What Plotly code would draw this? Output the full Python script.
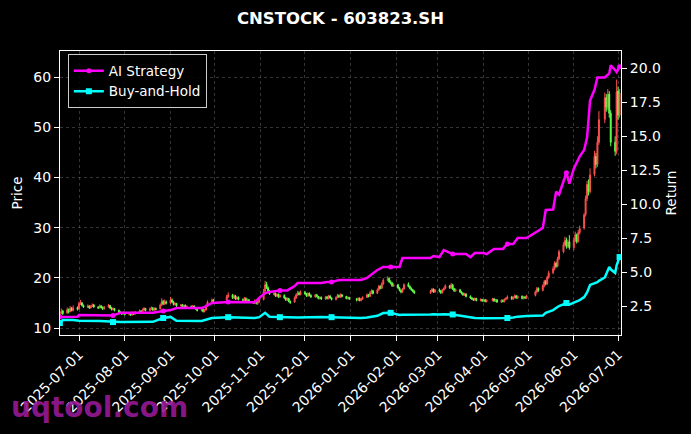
import pandas as pd
import plotly.graph_objects as go

# ---- trading days (weekdays minus SSE holidays) ----
holidays = ["2025-10-01", "2025-10-02", "2025-10-03", "2025-10-06", "2025-10-07", "2025-10-08",
            "2026-01-01", "2026-01-02",
            "2026-02-16", "2026-02-17", "2026-02-18", "2026-02-19", "2026-02-20", "2026-02-23",
            "2026-04-06", "2026-05-01", "2026-05-04", "2026-05-05", "2026-06-19"]
days = pd.bdate_range("2025-06-18", "2026-07-02")
days = days[~days.isin(pd.to_datetime(holidays))]

# ---- daily candles ----
open_px = [
    12.4, 12.9, 13.4, 13.0, 13.7, 13.3, 13.9, 13.5, 14.1,  # jun
    13.8, 14.9, 15.0, 14.5, 14.1, 14.4, 14.0, 14.3, 14.6, 14.2, 14.0, 14.4, 14.1, 13.8, 14.2, 14.5,
    14.0, 13.7, 13.9, 13.5, 13.2, 13.0, 12.8,  # jul
    13.0, 12.7, 12.9, 12.6, 13.0, 12.8, 13.1, 13.4, 13.2, 13.6, 13.9, 13.5, 13.8, 14.0, 13.6, 13.9,
    13.8, 14.6, 15.3, 14.8, 15.2,  # aug
    15.0, 15.6, 15.2, 14.7, 14.9, 14.4, 14.6, 14.2, 14.5, 14.1, 14.3, 14.0, 14.4, 14.1, 13.8, 13.5,
    13.7, 13.3, 13.6, 14.4, 15.2, 15.6,  # sep
    15.6, 16.2, 16.6, 16.0, 16.4, 15.8, 16.1, 15.7, 15.5, 15.9, 15.3, 15.6, 15.2, 15.0, 15.4, 14.9, 15.2,  # oct
    15.7, 17.3, 18.7, 18.0, 17.4, 16.7, 16.9, 16.4, 16.7, 16.2, 16.5, 16.0, 15.6, 15.9, 15.3, 15.2,
    16.0, 16.6, 17.0, 16.7,  # nov
    17.1, 16.8, 16.4, 16.9, 16.5, 16.2, 16.6, 16.3, 15.9, 16.1, 15.8, 16.2, 15.9, 16.4, 16.0, 15.7,
    16.1, 16.5, 16.2, 16.6, 16.3, 15.9, 16.1,  # dec
    15.8, 15.6, 15.9, 15.5, 15.8, 16.1, 16.6, 16.3, 17.0, 17.4, 16.9, 17.6, 18.3, 17.9, 18.8, 19.5,
    19.9, 19.2, 18.9, 18.4,  # jan
    18.6, 18.0, 17.5, 17.2, 17.8, 18.7, 18.3, 17.9, 17.6, 17.3, 17.0, 17.3, 17.7, 17.2,  # feb
    17.6, 17.4, 17.0, 17.6, 17.9, 18.4, 18.0, 18.6, 17.8, 17.4, 17.6, 17.2, 16.9, 16.6, 16.8, 16.3,
    16.0, 15.8, 15.6, 15.9, 15.5, 15.7,  # mar
    15.4, 15.6, 15.3, 15.5, 15.8, 15.4, 15.6, 15.2, 15.5, 15.3, 15.7, 15.9, 16.2, 15.8, 16.1, 16.4,
    16.0, 16.3, 15.9, 16.2, 16.0,  # apr
    16.5, 17.2, 17.9, 17.5, 18.4, 19.3, 18.8, 20.1, 21.0, 21.8, 22.9, 22.3, 23.8, 25.2, 26.6, 27.5,
    26.3, 27.2,  # may
    26.0, 27.5, 28.6, 27.3, 29.0, 29.9, 32.6, 35.8, 38.6, 37.2, 40.6, 44.2, 42.6, 47.0, 51.6, 55.9,
    54.0, 56.6, 52.8, 47.0, 45.2,  # jun
    57.2, 52.4,  # jul
]
high_px = [
    13.2, 13.9, 13.6, 14.1, 13.9, 14.4, 14.2, 14.5, 14.3,
    15.3, 15.6, 15.2, 14.7, 14.7, 14.5, 14.6, 14.9, 14.8, 14.4, 14.7, 14.6, 14.3, 14.4, 14.8, 14.6,
    14.2, 14.1, 14.0, 13.7, 13.4, 13.2, 13.3,
    13.2, 13.1, 13.0, 13.3, 13.2, 13.4, 13.7, 13.6, 13.9, 14.2, 14.0, 14.1, 14.3, 14.2, 14.1, 14.1,
    14.9, 15.9, 15.6, 15.7, 15.5,
    16.2, 15.9, 15.4, 15.1, 15.0, 14.8, 14.8, 14.7, 14.7, 14.5, 14.5, 14.6, 14.5, 14.2, 13.9, 13.9,
    13.9, 13.8, 14.7, 15.5, 15.9, 15.8,
    16.6, 17.1, 16.8, 16.7, 16.6, 16.3, 16.3, 15.9, 16.2, 16.1, 15.9, 15.8, 15.4, 15.7, 15.6, 15.5, 15.9,
    17.8, 19.4, 19.2, 18.3, 17.6, 17.2, 17.1, 16.9, 16.9, 16.8, 16.7, 16.2, 16.1, 16.0, 15.5, 16.3,
    16.9, 17.4, 17.3, 17.5,
    17.4, 17.0, 17.1, 17.1, 16.7, 16.8, 16.8, 16.4, 16.3, 16.3, 16.4, 16.4, 16.6, 16.5, 16.1, 16.3,
    16.8, 16.7, 16.9, 16.8, 16.4, 16.3, 16.2,
    16.0, 16.1, 16.1, 16.0, 16.3, 16.9, 16.8, 17.3, 17.7, 17.6, 17.9, 18.6, 18.5, 19.1, 19.9, 20.3,
    20.1, 19.5, 19.2, 18.9,
    18.8, 18.2, 17.7, 18.0, 18.9, 19.1, 18.5, 18.1, 17.8, 17.5, 17.6, 18.0, 17.9, 17.8,
    17.9, 17.6, 17.8, 18.1, 18.7, 18.6, 19.0, 18.8, 18.0, 17.9, 17.8, 17.4, 17.1, 17.0, 16.9, 16.5,
    16.2, 16.0, 16.1, 16.0, 15.9, 15.8,
    15.8, 15.8, 15.7, 16.0, 16.0, 15.8, 15.8, 15.7, 15.7, 15.9, 16.1, 16.5, 16.4, 16.3, 16.7, 16.6,
    16.5, 16.5, 16.4, 16.4, 16.6,
    17.5, 18.2, 18.1, 18.7, 19.6, 19.6, 20.4, 21.4, 22.3, 23.3, 23.2, 24.2, 25.6, 27.1, 28.2, 28.0,
    27.6, 28.5,
    27.9, 29.2, 28.8, 29.5, 30.4, 32.9, 36.4, 39.3, 39.6, 41.8, 45.3, 44.9, 48.2, 53.2, 56.9, 56.6,
    57.6, 57.2, 53.4, 48.2, 59.5,
    58.1, 57.6,
]
low_px = [
    12.1, 12.7, 12.6, 12.8, 12.9, 13.1, 13.3, 13.3, 13.5,
    13.7, 14.6, 14.3, 14.0, 14.0, 13.8, 13.9, 14.2, 14.0, 13.8, 13.9, 13.9, 13.6, 13.7, 14.1, 13.8,
    13.5, 13.5, 13.3, 13.0, 12.8, 12.6, 12.7,
    12.5, 12.5, 12.4, 12.5, 12.6, 12.6, 12.9, 13.0, 13.1, 13.4, 13.3, 13.3, 13.6, 13.4, 13.4, 13.5,
    13.7, 14.4, 14.6, 14.6, 14.7,
    14.8, 15.0, 14.5, 14.5, 14.2, 14.3, 14.0, 14.0, 13.9, 14.0, 13.8, 13.8, 13.9, 13.6, 13.3, 13.3,
    13.1, 13.1, 13.5, 14.2, 15.0, 15.1,
    15.4, 16.0, 15.8, 15.8, 15.6, 15.6, 15.5, 15.3, 15.3, 15.1, 15.1, 15.0, 14.8, 14.8, 14.7, 14.6, 15.0,
    15.5, 17.0, 17.8, 17.2, 16.6, 16.5, 16.2, 16.2, 16.0, 16.0, 15.8, 15.4, 15.4, 15.1, 14.8, 15.0,
    15.8, 16.4, 16.5, 16.5,
    16.6, 16.2, 16.2, 16.3, 16.0, 16.0, 16.1, 15.7, 15.7, 15.6, 15.6, 15.7, 15.7, 15.8, 15.5, 15.5,
    15.9, 16.0, 16.0, 16.1, 15.7, 15.7, 15.6,
    15.3, 15.4, 15.3, 15.3, 15.6, 16.0, 16.1, 16.2, 16.8, 16.7, 16.8, 17.4, 17.7, 17.8, 18.6, 19.3,
    19.0, 18.7, 18.2, 18.2,
    17.8, 17.3, 16.9, 17.0, 17.6, 18.1, 17.7, 17.4, 17.1, 16.8, 16.8, 17.1, 17.0, 17.0,
    17.1, 16.8, 16.9, 17.4, 17.7, 17.8, 17.8, 17.6, 17.2, 17.2, 17.0, 16.7, 16.4, 16.4, 16.1, 15.8,
    15.6, 15.4, 15.4, 15.3, 15.3, 15.2,
    15.2, 15.1, 15.1, 15.3, 15.2, 15.2, 15.0, 15.0, 15.1, 15.1, 15.5, 15.7, 15.6, 15.6, 15.9, 15.8,
    15.8, 15.7, 15.7, 15.8, 15.8,
    16.3, 16.9, 17.2, 17.3, 18.1, 18.5, 18.6, 19.8, 20.7, 21.5, 22.0, 22.1, 23.5, 24.9, 26.2, 25.8,
    25.9, 25.6,
    25.5, 27.1, 26.8, 27.0, 28.6, 29.6, 32.2, 35.3, 36.4, 36.8, 40.2, 41.8, 42.1, 46.5, 50.8, 53.1,
    53.4, 51.9, 46.2, 44.3, 44.6,
    51.5, 51.9,
]
close_px = [
    12.8, 13.3, 12.9, 13.6, 13.2, 13.9, 13.5, 14.0, 13.7,
    14.9, 15.1, 14.5, 14.2, 14.4, 14.0, 14.3, 14.6, 14.2, 14.0, 14.4, 14.1, 13.8, 14.2, 14.5, 14.0,
    13.7, 13.9, 13.5, 13.2, 13.0, 12.8, 13.0,
    12.7, 12.9, 12.6, 13.0, 12.8, 13.1, 13.4, 13.2, 13.6, 13.9, 13.5, 13.8, 14.0, 13.6, 13.9, 13.7,
    14.6, 15.3, 14.8, 15.2, 15.0,
    15.6, 15.2, 14.7, 14.9, 14.4, 14.6, 14.2, 14.5, 14.1, 14.3, 14.0, 14.4, 14.1, 13.8, 13.5, 13.7,
    13.3, 13.6, 14.4, 15.2, 15.6, 15.4,
    16.2, 16.6, 16.0, 16.4, 15.8, 16.1, 15.7, 15.5, 15.9, 15.3, 15.6, 15.2, 15.0, 15.4, 14.9, 15.2, 15.6,
    17.2, 18.6, 18.0, 17.4, 16.8, 16.9, 16.4, 16.7, 16.2, 16.5, 16.0, 15.6, 15.9, 15.3, 15.1, 16.0,
    16.6, 17.0, 16.7, 17.1,
    16.8, 16.4, 16.9, 16.5, 16.2, 16.6, 16.3, 15.9, 16.1, 15.8, 16.2, 15.9, 16.4, 16.0, 15.7, 16.1,
    16.5, 16.2, 16.6, 16.3, 15.9, 16.1, 15.8,
    15.6, 15.9, 15.5, 15.8, 16.1, 16.6, 16.3, 17.0, 17.4, 16.9, 17.6, 18.3, 17.9, 18.8, 19.5, 19.8,
    19.2, 18.9, 18.4, 18.6,
    18.0, 17.5, 17.2, 17.8, 18.6, 18.3, 17.9, 17.6, 17.3, 17.0, 17.3, 17.7, 17.2, 17.6,
    17.4, 17.0, 17.6, 17.9, 18.4, 18.0, 18.6, 17.8, 17.4, 17.6, 17.2, 16.9, 16.6, 16.8, 16.3, 16.0,
    15.8, 15.6, 15.9, 15.5, 15.7, 15.4,
    15.6, 15.3, 15.5, 15.8, 15.4, 15.6, 15.2, 15.5, 15.3, 15.7, 15.9, 16.2, 15.8, 16.1, 16.4, 16.0,
    16.3, 15.9, 16.2, 16.0, 16.4,
    17.2, 17.8, 17.5, 18.4, 19.2, 18.8, 20.1, 21.0, 21.8, 22.9, 22.3, 23.8, 25.2, 26.6, 27.4, 26.3,
    27.1, 26.0,
    27.5, 28.6, 27.2, 29.0, 29.8, 32.5, 35.8, 38.6, 37.2, 40.5, 44.2, 42.6, 47.0, 51.5, 55.8, 54.0,
    56.5, 52.8, 47.0, 45.2, 57.0,
    52.4, 56.8,
]

# ---- strategy curves (return axis) ----
line_dates = ["2025-06-18", "2025-06-20", "2025-06-27", "2025-06-30", "2025-07-01", "2025-07-15",
              "2025-07-24", "2025-07-29", "2025-08-20", "2025-08-25", "2025-08-27", "2025-09-01",
              "2025-09-05", "2025-09-22", "2025-09-24", "2025-09-29", "2025-10-10", "2025-10-28",
              "2025-10-31", "2025-11-04", "2025-11-07", "2025-11-14", "2025-11-19", "2025-11-24",
              "2025-11-26", "2025-12-12", "2025-12-16", "2025-12-19", "2025-12-24", "2026-01-08",
              "2026-01-12", "2026-01-19", "2026-01-23", "2026-01-28", "2026-02-03", "2026-02-05",
              "2026-02-24", "2026-02-26", "2026-03-02", "2026-03-05", "2026-03-11", "2026-03-20",
              "2026-03-23", "2026-03-26", "2026-04-01", "2026-04-03", "2026-04-08", "2026-04-14",
              "2026-04-17", "2026-04-21", "2026-04-24", "2026-04-30", "2026-05-06", "2026-05-11",
              "2026-05-13", "2026-05-18", "2026-05-20", "2026-05-22", "2026-05-27", "2026-05-29",
              "2026-06-01", "2026-06-05", "2026-06-08", "2026-06-10", "2026-06-12", "2026-06-15",
              "2026-06-17", "2026-06-18", "2026-06-22", "2026-06-25", "2026-06-26", "2026-06-29",
              "2026-06-30", "2026-07-02"]
ai_return = [1.69, 1.69, 1.69, 1.72, 1.84, 1.84,
             1.80, 2.00, 2.00, 2.10, 2.13, 2.20,
             2.35, 2.35, 2.43, 2.72, 2.80, 2.78,
             3.10, 3.45, 3.53, 3.65, 3.65, 3.97,
             4.19, 4.19, 4.26, 4.26, 4.41, 4.41,
             4.56, 5.15, 5.37, 5.37, 5.37, 6.03,
             6.03, 6.18, 6.10, 6.62, 6.32, 6.32,
             6.10, 6.40, 6.40, 6.32, 6.70, 6.70,
             7.06, 7.06, 7.50, 7.50, 7.87, 8.24,
             9.56, 9.60, 10.9, 10.7, 12.3, 11.5,
             12.6, 13.5, 13.97, 14.9, 17.6, 18.4,
             19.3, 19.3, 19.3, 19.6, 20.2, 19.85,
             19.7, 20.1]
bh_return = [1.25, 1.47, 1.47, 1.45, 1.42, 1.40,
             1.32, 1.33, 1.34, 1.58, 1.62, 1.70,
             1.42, 1.40, 1.45, 1.62, 1.68, 1.62,
             1.68, 2.00, 1.72, 1.68, 1.66, 1.62,
             1.66, 1.70, 1.68, 1.68, 1.66, 1.62,
             1.66, 1.78, 1.98, 2.00, 1.84, 1.86,
             1.88, 1.90, 1.88, 1.90, 1.88, 1.72,
             1.66, 1.62, 1.60, 1.60, 1.60, 1.62,
             1.62, 1.66, 1.72, 1.76, 1.78, 1.80,
             2.00, 2.20, 2.35, 2.50, 2.72, 2.60,
             2.75, 2.94, 3.16, 3.50, 4.05, 4.15,
             4.26, 4.35, 4.60, 5.37, 5.20, 4.93,
             5.50, 6.10]
mark_dates = ["2025-06-18", "2025-07-24", "2025-08-27", "2025-10-10", "2025-11-14", "2025-12-19",
              "2026-01-28", "2026-03-11", "2026-04-17", "2026-05-27", "2026-07-02"]

month_ticks = pd.date_range("2025-07-01", "2026-07-01", freq="MS")
price_ticks = [10, 20, 30, 40, 50, 60]
ret_ticks = [2.5, 5.0, 7.5, 10.0, 12.5, 15.0, 17.5, 20.0]

UP, DOWN = "#ff4f4f", "#66ff4d"
MAG, CYAN = "#ff00ff", "#00ffff"
FONT = "DejaVu Sans"
GRID = "rgba(130,130,130,0.4)"

n = min(len(days), len(close_px))
idx = [line_dates.index(d) for d in mark_dates]

fig = go.Figure()
fig.add_trace(go.Candlestick(
    x=days[:n], open=open_px[:n], high=high_px[:n], low=low_px[:n], close=close_px[:n],
    increasing=dict(line=dict(color=UP, width=1), fillcolor=UP),
    decreasing=dict(line=dict(color=DOWN, width=1), fillcolor=DOWN),
    showlegend=False, hoverinfo="skip"))

# curves
fig.add_trace(go.Scatter(x=line_dates, y=ai_return, mode="lines", yaxis="y2",
                         line=dict(color=MAG, width=2.5), showlegend=False))
fig.add_trace(go.Scatter(x=line_dates, y=bh_return, mode="lines", yaxis="y2",
                         line=dict(color=CYAN, width=2.5), showlegend=False))
fig.add_trace(go.Scatter(x=[line_dates[i] for i in idx], y=[ai_return[i] for i in idx],
                         mode="markers", yaxis="y2", marker=dict(color=MAG, size=5, symbol="circle"),
                         showlegend=False))
fig.add_trace(go.Scatter(x=[line_dates[i] for i in idx], y=[bh_return[i] for i in idx],
                         mode="markers", yaxis="y2", marker=dict(color=CYAN, size=6, symbol="square"),
                         showlegend=False))
# legend entries
fig.add_trace(go.Scatter(x=[None], y=[None], mode="lines+markers", yaxis="y2", name="AI Strategy",
                         line=dict(color=MAG, width=2.5), marker=dict(color=MAG, size=5)))
fig.add_trace(go.Scatter(x=[None], y=[None], mode="lines+markers", yaxis="y2", name="Buy-and-Hold",
                         line=dict(color=CYAN, width=2.5), marker=dict(color=CYAN, size=6, symbol="square")))

axis_common = dict(showline=True, linecolor="white", linewidth=1, ticks="outside", ticklen=5,
                   tickcolor="white", tickfont=dict(family=FONT, size=14, color="white"),
                   zeroline=False, automargin=False)

fig.update_layout(
    width=691, height=434,
    paper_bgcolor="black", plot_bgcolor="black",
    margin=dict(l=60, r=70, t=51, b=99),
    font=dict(family=FONT, color="white", size=13.5),
    boxgap=0.1,
    title=dict(text="<b>CNSTOCK - 603823.SH</b>", x=0.5, xref="paper", xanchor="center",
               y=0.958, yanchor="middle", font=dict(family=FONT, size=16.5, color="white")),
    xaxis=dict(type="date", range=["2025-06-18 03:00", "2026-07-02 23:00"],
               tickvals=month_ticks, tickformat="%Y-%m-%d", tickangle=-45,
               showgrid=True, gridcolor=GRID, griddash="3px,3px", gridwidth=0.7,
               mirror=True, rangeslider=dict(visible=False), **axis_common),
    yaxis=dict(range=[8.61, 65.18], tickvals=price_ticks, showgrid=True, gridcolor=GRID,
               griddash="3px,3px", gridwidth=0.7, mirror=True,
               title=dict(text="Price", standoff=7, font=dict(family=FONT, size=13.5, color="white")),
               **axis_common),
    yaxis2=dict(overlaying="y", side="right", range=[0.37, 21.25], tickvals=ret_ticks,
                tickformat=".1f", showgrid=False,
                title=dict(text="Return", standoff=6, font=dict(family=FONT, size=13.5, color="white")),
                **axis_common),
    legend=dict(x=0.014, y=0.988, xanchor="left", yanchor="top", bgcolor="rgba(0,0,0,0.85)",
                bordercolor="#cccccc", borderwidth=1, tracegroupgap=0,
                font=dict(family=FONT, size=13.5, color="white")),
    annotations=[dict(text="<b>uqtool.com</b>", xref="paper", yref="paper", x=-0.091, y=-0.257,
                      xanchor="left", yanchor="middle", showarrow=False,
                      font=dict(family=FONT, size=28, color="rgba(150,25,150,0.92)"))],
)

# the page body has a default 8px margin; drop it so the figure sits at the window origin
fig.write_html("out.html", config={"displayModeBar": False},
               post_script="document.body.style.margin='0';document.body.style.overflow='hidden';")
